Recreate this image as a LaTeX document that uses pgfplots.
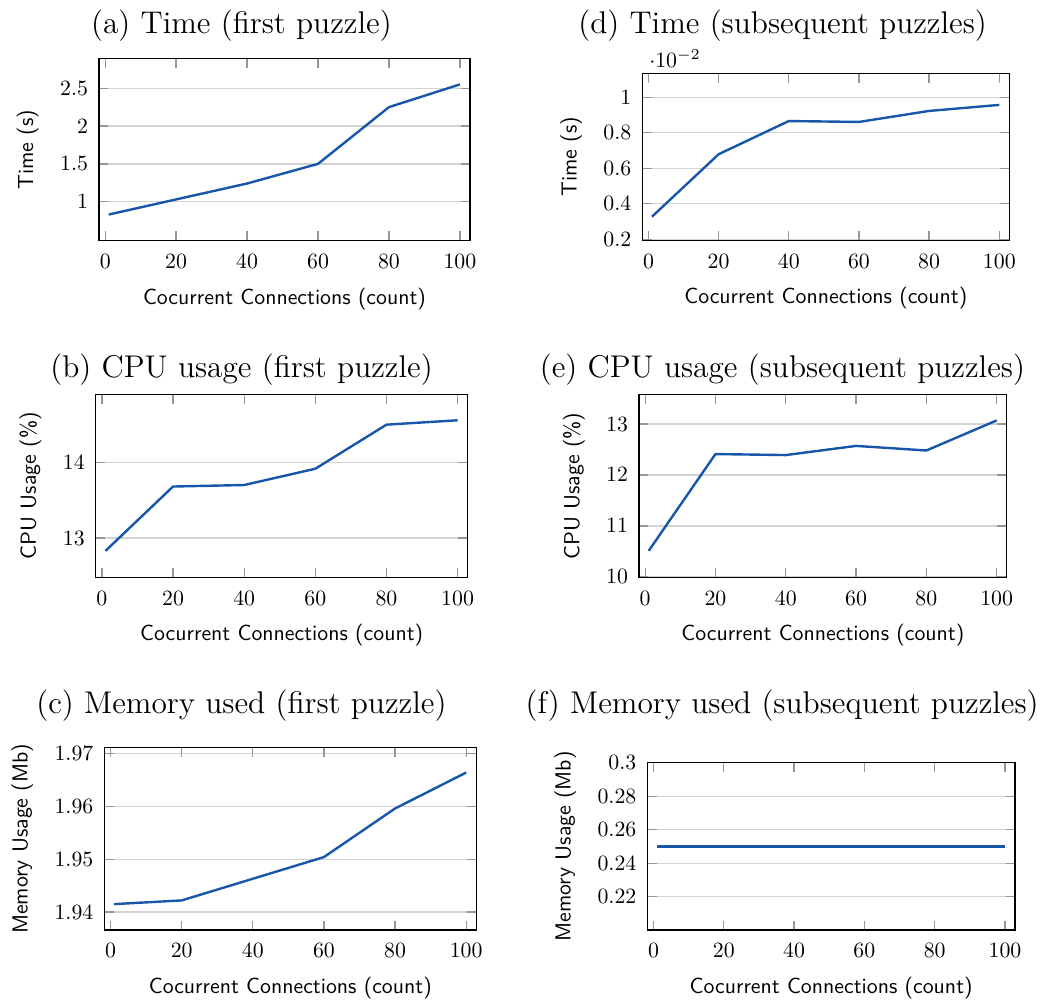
\documentclass[border=0pt]{standalone}
\usepackage{pgfplots}
\pgfplotsset{compat=1.18}
\definecolor{lineblue}{RGB}{24,86,170}
\definecolor{gridgray}{RGB}{210,210,210}
\definecolor{tickgray}{RGB}{150,150,150}
\pgfplotsset{
  myline/.style={lineblue, line width=1.1pt, mark=none},
  myax/.style={
    scale only axis,
    anchor=north west,
    xmin=-1.75, xmax=102.85,
    xtick={0,20,40,60,80,100},
    ymajorgrids,
    major grid style={gridgray, line width=0.6pt},
    tick style={tickgray, line width=0.6pt},
    axis line style={line width=0.6pt},
    xticklabel shift=2.8pt,
    yticklabel shift=1.5pt,
    xlabel shift=2pt,
    ylabel shift=3pt,
    xlabel={\sffamily Cocurrent Connections (count)},
  }
}
\begin{document}
\begin{tikzpicture}[x=0.4587pt,y=-0.4587pt]
\path (0,0) rectangle (1049,998);
\coordinate (A) at (99,58.7);
\coordinate (D) at (642.3,73.3);
\coordinate (B) at (95.7,394.3);
\coordinate (E) at (639,394.7);
\coordinate (C) at (104.3,747.7);
\coordinate (F) at (647.3,762.7);

\node[anchor=base,font=\Large] at (241.4,33.3) {(a) Time (first puzzle)};
\node[anchor=base,font=\Large] at (782.6,33.3) {(d) Time (subsequent puzzles)};
\node[anchor=base,font=\Large] at (241.6,377.3) {(b) CPU usage (first puzzle)};
\node[anchor=base,font=\Large] at (782.4,377.3) {(e) CPU usage (subsequent puzzles)};
\node[anchor=base,font=\Large] at (241.4,713.3) {(c) Memory used (first puzzle)};
\node[anchor=base,font=\Large] at (782.2,713.3) {(f) Memory used (subsequent puzzles)};

% (a)
\begin{axis}[myax, at={(A)}, width=170.18pt, height=83.48pt,
  ymin=0.484, ymax=2.89, ytick={1,1.5,2,2.5},
  ylabel={\sffamily Time (s)}]
\addplot[myline] coordinates {(1,0.83) (20,1.03) (40,1.24) (60,1.50) (80,2.25) (100,2.55)};
\end{axis}

% (d)
\begin{axis}[myax, at={(D)}, width=168.34pt, height=76.6pt,
  ymin=0.00194, ymax=0.01135, ytick={0.002,0.004,0.006,0.008,0.01},
  scaled y ticks=base 10:2,
  ylabel={\sffamily Time (s)}]
\addplot[myline] coordinates {(1,0.00327) (20,0.00679) (40,0.00866) (60,0.00861) (80,0.00923) (100,0.00957)};
\end{axis}

% (b)
\begin{axis}[myax, at={(B)}, width=170.64pt, height=83.94pt,
  ymin=12.481, ymax=14.898, ytick={13,14},
  ylabel={\sffamily CPU Usage (\%)}]
\addplot[myline] coordinates {(1,12.83) (20,13.68) (40,13.70) (60,13.915) (80,14.497) (100,14.555)};
\end{axis}

% (e)
\begin{axis}[myax, at={(E)}, width=168.66pt, height=83.76pt,
  ymin=9.99, ymax=13.575, ytick={10,11,12,13},
  ylabel={\sffamily CPU Usage (\%)}]
\addplot[myline] coordinates {(1,10.51) (20,12.41) (40,12.39) (60,12.57) (80,12.48) (100,13.07)};
\end{axis}

% (c)
\begin{axis}[myax, at={(C)}, width=170.64pt, height=83.62pt,
  ymin=1.9366, ymax=1.9711, ytick={1.94,1.95,1.96,1.97},
  yticklabel style={/pgf/number format/fixed, /pgf/number format/precision=2},
  ylabel={\sffamily Memory Usage (Mb)}]
\addplot[myline] coordinates {(1,1.9415) (20,1.9422) (40,1.9463) (60,1.9504) (80,1.9596) (100,1.9664)};
\end{axis}

% (f)
\begin{axis}[myax, at={(F)}, width=168.66pt, height=76.74pt,
  ymin=0.2001, ymax=0.3, ytick={0.22,0.24,0.26,0.28,0.3},
  yticklabel style={/pgf/number format/fixed, /pgf/number format/precision=2},
  ylabel={\sffamily Memory Usage (Mb)}]
\addplot[myline] coordinates {(1,0.25) (20,0.25) (40,0.25) (60,0.25) (80,0.25) (100,0.25)};
\end{axis}
\end{tikzpicture}
\end{document}
